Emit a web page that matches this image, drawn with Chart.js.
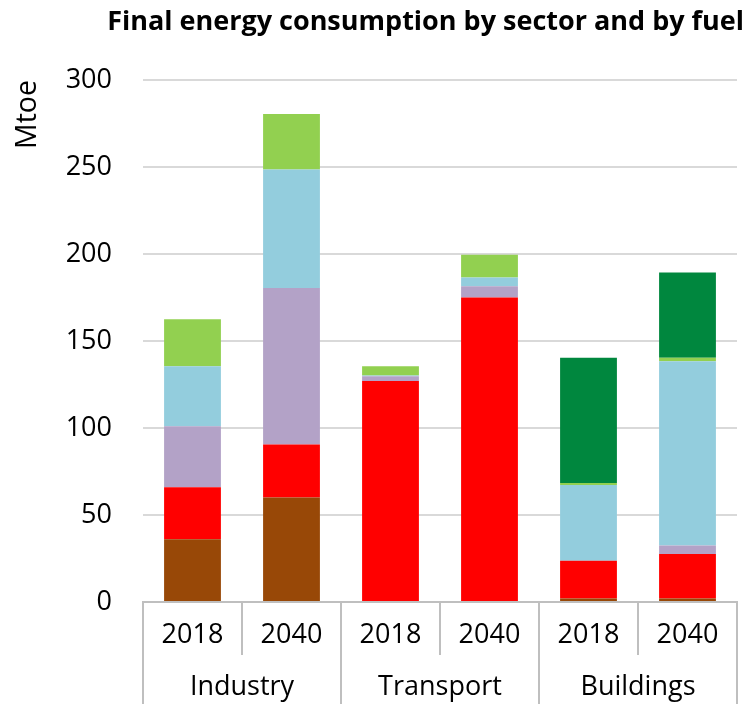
<!DOCTYPE html>
<html><head><meta charset="utf-8">
<script src="https://cdn.jsdelivr.net/npm/chart.js@4"></script>
<style>html,body{margin:0;padding:0;background:#fff}#wrap{width:752px;height:704px}</style>
</head><body><div id="wrap"><canvas id="c" width="752" height="704"></canvas></div>
<script>
const years = ['2018','2040','2018','2040','2018','2040'];
const sectors = ['Industry','Transport','Buildings'];
const coal  = [36, 60, 0, 0, 2, 2];
const oil   = [30, 30.5, 127, 175, 21.7, 25.6];
const gas   = [35, 90, 2.7, 6.5, 0, 4.8];
const elec  = [34.5, 68, 0.5, 5, 43.5, 106];
const renew = [27, 32, 5.3, 13, 1.2, 2];
const biomass = [0, 0, 0, 0, 72, 49];
const yTicks = [0, 50, 100, 150, 200, 250, 300];

const FONT = "'Open Sans', 'Noto Sans', sans-serif";
const sepPlugin = {
  id: 'sep',
  afterDraw(chart) {
    const x = chart.scales.x, ctx = chart.ctx;
    const n = years.length;
    const step = x.getPixelForTick(1) - x.getPixelForTick(0);
    const base = chart.chartArea.bottom;
    ctx.save();
    ctx.strokeStyle = '#bfbfbf';
    ctx.lineWidth = 2;
    for (let i = 0; i <= n; i++) {
      const px = x.getPixelForTick(0) - step / 2 + i * step;
      const isGroup = i % 2 === 0;
      ctx.beginPath();
      ctx.moveTo(px, base);
      ctx.lineTo(px, isGroup ? chart.height : x.bottom);
      ctx.stroke();
    }
    ctx.restore();
  }
};

const mk = (label, data, color) => ({label, data, backgroundColor: color, borderWidth: 0,
  barPercentage: 0.574, categoryPercentage: 1.0, xAxisID: 'x', yAxisID: 'y'});

new Chart(document.getElementById('c'), {
  type: 'bar',
  data: {
    labels: years,
    datasets: [
      mk('Coal', coal, '#984807'),
      mk('Oil', oil, '#ff0000'),
      mk('Gas', gas, '#b3a2c7'),
      mk('Electricity', elec, '#93cddd'),
      mk('Renewables', renew, '#92d050'),
      mk('Bioenergy', biomass, '#00873e')
    ]
  },
  options: {
    responsive: false,
    animation: false,
    layout: {padding: {left: 0, right: 8, top: 0, bottom: 0}},
    plugins: {
      legend: {display: false},
      tooltip: {enabled: false},
      title: {display: true, text: 'Final energy consumption by sector and by fuel',
        align: 'end', color: '#000', font: {family: FONT, size: 27, weight: 'bold'},
        padding: {top: 6, bottom: 41.6}}
    },
    scales: {
      x: {
        stacked: true,
        offset: true,
        grid: {display: false, drawTicks: false},
        border: {display: true, color: '#bfbfbf', width: 2},
        ticks: {color: '#000', font: {family: FONT, size: 27}, padding: 17, maxRotation: 0, autoSkip: false},
        afterFit: (s) => { s.height = 53; }
      },
      x2: {
        type: 'category',
        labels: sectors,
        position: 'bottom',
        offset: true,
        grid: {display: false, drawTicks: false},
        border: {display: false},
        ticks: {color: '#000', font: {family: FONT, size: 27}, padding: 16, maxRotation: 0},
        afterFit: (s) => { s.height = 49; }
      },
      y: {
        stacked: true,
        min: 0, max: 300,
        afterBuildTicks: (s) => { s.ticks = yTicks.map(v => ({value: v})); },
        grid: {color: '#d9d9d9', lineWidth: 2, drawTicks: false},
        border: {display: false},
        ticks: {color: '#000', font: {family: FONT, size: 27}, padding: 31},
        title: {display: true, text: 'Mtoe', align: 'end', color: '#000',
          font: {family: FONT, size: 28.5}, padding: {top: 11, bottom: 10}},
        afterFit: (s) => { s.width = 143; }
      },
      yR: {
        position: 'right',
        display: true,
        min: 0, max: 300,
        grid: {display: false, drawTicks: false},
        border: {display: false},
        ticks: {display: false},
        afterFit: (s) => { s.width = 7; }
      }
    }
  },
  plugins: [sepPlugin]
});
</script>
</body></html>
